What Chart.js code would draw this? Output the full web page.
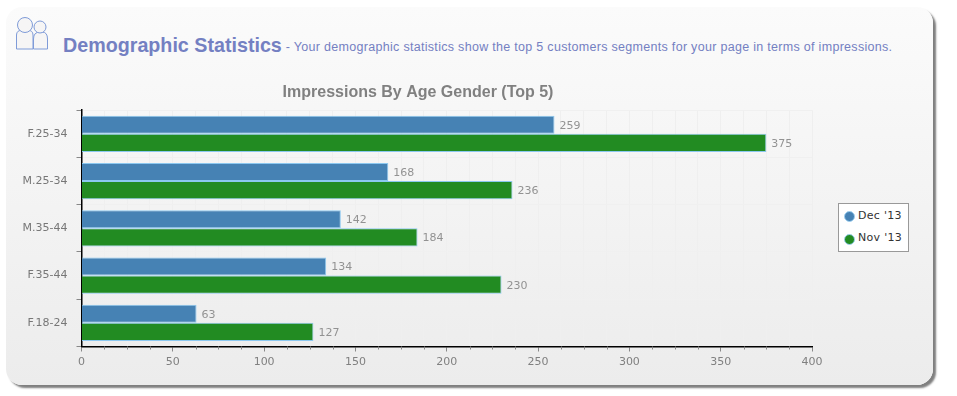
<!DOCTYPE html>
<html>
<head>
<meta charset="utf-8">
<script src="https://cdn.jsdelivr.net/npm/chart.js@4/dist/chart.umd.min.js"></script>
<style>
html,body{margin:0;padding:0;background:#fff;width:957px;height:396px;overflow:hidden}
#card{position:absolute;left:6px;top:7px;width:927px;height:378px;border-radius:16px;background:linear-gradient(#fbfbfb,#ececec);box-shadow:3px 3px 2px #7f7f7f}
#icon{position:absolute;left:15px;top:16px}
#head{position:absolute;left:63px;top:34px;white-space:nowrap;font-family:"Liberation Sans",Arial,sans-serif;color:#7480c2}
#head b{font-size:19.7px}
#head span{font-size:12.5px;letter-spacing:.3px;margin-left:4px;position:relative;top:-1px}
#wrap{position:absolute;left:0;top:0;width:836px;height:396px}
#legend{position:absolute;left:838px;top:203px;width:69px;height:47px;background:#fff;border:1px solid #999;font:11px "DejaVu Sans",sans-serif;letter-spacing:.3px;color:#333}
#legend div{position:absolute;left:19px;white-space:nowrap}
#legend i{position:absolute;left:-14px;top:2px;width:9px;height:9px;border-radius:50%;border:1px solid #9fd0f0}
</style>
</head>
<body>
<div id="card"></div>
<svg id="icon" width="36" height="36" viewBox="0 0 36 36" fill="#f6f5f5" stroke="#7f9bd8" stroke-width="1">
<path d="M1.5 33 V19 Q1.5 14 8 14 H12 Q18 14 18 19 V33 Z"/>
<circle cx="10" cy="9" r="7.5"/>
<path d="M18.5 33 V23 Q18.5 16 25 16 H27 Q32.5 16 32.5 23 V33 Z"/>
<circle cx="25" cy="11" r="6"/>
</svg>
<div id="head"><b>Demographic Statistics</b><span>- Your demographic statistics show the top 5 customers segments for your page in terms of impressions.</span></div>
<div id="wrap"><canvas id="c"></canvas></div>
<div id="legend"></div>
<script>
const categories = ["F.25-34","M.25-34","M.35-44","F.35-44","F.18-24"];
const dec13 = [259,168,142,134,63];
const nov13 = [375,236,184,230,127];
const seriesNames = ["Dec '13","Nov '13"];
const seriesColors = ["#4682b4","#228b22"];
const chartTitle = "Impressions By Age Gender (Top 5)";

const barExtras = {
  id:'barExtras',
  afterLayout(chart){
    // widen the label clip area of the category axis to the canvas edge
    chart.scales.y.left = 0;
  },
  afterDatasetsDraw(chart){
    const {ctx} = chart;
    ctx.save();
    ctx.font = '11px "DejaVu Sans"';
    ctx.fillStyle = '#929292';
    ctx.textBaseline = 'middle';
    ctx.textAlign = 'left';
    chart.data.datasets.forEach((ds,i)=>{
      chart.getDatasetMeta(i).data.forEach((bar,j)=>{
        ctx.fillText(String(ds.data[j]), bar.x+5, bar.y+1);
      });
    });
    const xs = chart.scales.x;
    ctx.strokeStyle = '#888';
    ctx.lineWidth = 1;
    xs.ticks.forEach(t=>{
      if(t.value % 50 !== 0){
        const p = Math.round(xs.getPixelForValue(t.value))+0.5;
        ctx.beginPath();ctx.moveTo(p,xs.top);ctx.lineTo(p,xs.top+3);ctx.stroke();
      }
    });
    ctx.restore();
  }
};

const chart = new Chart(document.getElementById('c'),{
  type:'bar',
  data:{labels:categories,datasets:[
    {label:seriesNames[0],data:dec13,backgroundColor:seriesColors[0],borderColor:'#8cc8f0',borderWidth:1},
    {label:seriesNames[1],data:nov13,backgroundColor:seriesColors[1],borderColor:'#8cc8f0',borderWidth:1}
  ]},
  plugins:[barExtras],
  options:{
    indexAxis:'y',responsive:true,maintainAspectRatio:false,animation:false,
    devicePixelRatio:1,
    categoryPercentage:0.77,barPercentage:1,
    layout:{padding:{top:83,right:24,left:24,bottom:0}},
    plugins:{
      legend:{display:false},tooltip:{enabled:false},
      title:{display:true,text:chartTitle,color:'#808080',font:{family:'"Liberation Sans"',size:16,weight:'bold'},padding:{top:0,bottom:8}}
    },
    scales:{
      x:{type:'linear',min:0,max:400,
        afterFit(s){s.height=49.5;},
        ticks:{stepSize:12.5,autoSkip:false,maxRotation:0,padding:4,color:'#808080',font:{family:'"DejaVu Sans"',size:11},
          callback:v=>v%50===0?String(v):''},
        grid:{drawTicks:true,tickLength:5,color:'#efefef',tickColor:c=>c.tick&&c.tick.value%50===0?'#888':'transparent'},
        border:{color:'#000',width:1.5}
      },
      y:{
        afterFit(s){s.width=57.5;},
        ticks:{padding:9,color:'#777',font:{family:'"DejaVu Sans"',size:11}},
        grid:{offset:true,tickLength:5,color:'#f0f0f0',tickColor:'#888'},
        border:{color:'#000',width:1.5}
      }
    }
  }
});

const legendEl = document.getElementById('legend');
seriesNames.forEach((n,i)=>{
  const d=document.createElement('div');
  d.style.top=(5+i*22)+'px';
  d.textContent=n;
  const dot=document.createElement('i');
  dot.style.background=seriesColors[i];
  dot.style.top=(2+i)+'px';
  d.appendChild(dot);
  legendEl.appendChild(d);
});
</script>
</body>
</html>
